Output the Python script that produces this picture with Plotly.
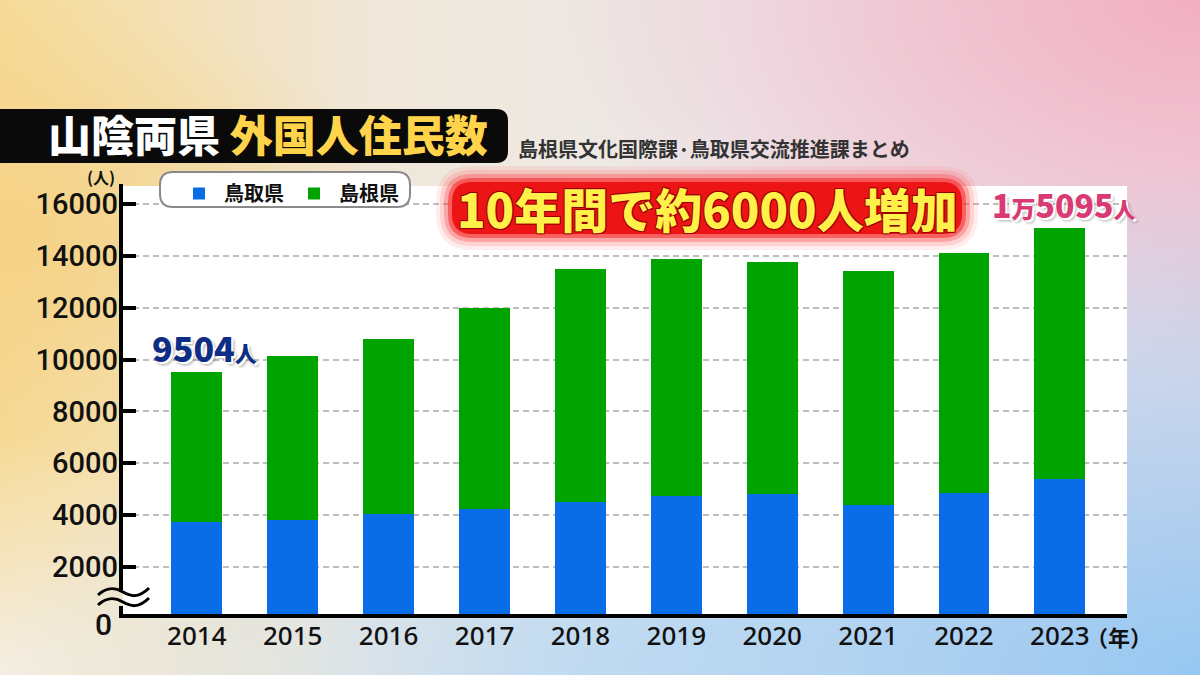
import base64
import plotly.graph_objects as go

# ---------------- data ----------------
years = ["2014", "2015", "2016", "2017", "2018", "2019", "2020", "2021", "2022", "2023"]
tottori = [3718, 3807, 4027, 4220, 4514, 4745, 4811, 4386, 4861, 5402]
shimane = [5786, 6344, 6757, 7784, 8984, 9128, 8969, 9046, 9243, 9693]
y_ticks = [2000, 4000, 6000, 8000, 10000, 12000, 14000, 16000]
series_names = ["鳥取県", "島根県"]
title_a = "山陰両県"
title_b = "外国人住民数"
source_text = "島根県文化国際課·鳥取県交流推進課まとめ"
banner_text = "10年間で約6000人増加"

# ---------------- geometry helpers ----------------
W, H = 1200, 675
L, R, T, B = 123, 1127, 186, 614
PW, PH = R - L, B - T


def px(x):
    return (x - L) / PW


def py(y):
    return (B - y) / PH


def rrect(x0, y0, x1, y1, r):
    pts = [
        f"M{px(x0 + r)},{py(y0)}",
        f"L{px(x1 - r)},{py(y0)}",
        f"Q{px(x1)},{py(y0)} {px(x1)},{py(y0 + r)}",
        f"L{px(x1)},{py(y1 - r)}",
        f"Q{px(x1)},{py(y1)} {px(x1 - r)},{py(y1)}",
        f"L{px(x0 + r)},{py(y1)}",
        f"Q{px(x0)},{py(y1)} {px(x0)},{py(y1 - r)}",
        f"L{px(x0)},{py(y0 + r)}",
        f"Q{px(x0)},{py(y0)} {px(x0 + r)},{py(y0)}",
        "Z",
    ]
    return " ".join(pts)


def path_px(cmds):
    out = []
    for c in cmds:
        if isinstance(c, str):
            out.append(c)
        else:
            out.append(f"{px(c[0])},{py(c[1])}")
    return " ".join(out)


# ---------------- background gradient (SVG) ----------------
svg = f"""<svg xmlns='http://www.w3.org/2000/svg' width='{W}' height='{H}' viewBox='0 0 {W} {H}' preserveAspectRatio='none'>
<defs>
<linearGradient id='base' x1='0' y1='0' x2='1' y2='0'>
<stop offset='0' stop-color='#F6DA96'/>
<stop offset='0.3' stop-color='#F0E7D8'/>
<stop offset='0.6' stop-color='#ECEAEA'/>
<stop offset='1' stop-color='#EEDDE6'/>
</linearGradient>
<radialGradient id='pink' cx='1' cy='0' r='0.55'>
<stop offset='0' stop-color='#F2AFC2' stop-opacity='1'/>
<stop offset='1' stop-color='#F2AFC2' stop-opacity='0'/>
</radialGradient>
<radialGradient id='blue' cx='1' cy='1' r='0.75'>
<stop offset='0' stop-color='#96C8F2' stop-opacity='1'/>
<stop offset='1' stop-color='#96C8F2' stop-opacity='0'/>
</radialGradient>
<radialGradient id='blue2' cx='0.5' cy='1' r='0.5'>
<stop offset='0' stop-color='#CFE2F3' stop-opacity='0.9'/>
<stop offset='1' stop-color='#CFE2F3' stop-opacity='0'/>
</radialGradient>
<radialGradient id='yel' cx='0' cy='0.35' r='0.35'>
<stop offset='0' stop-color='#F5D080' stop-opacity='0.8'/>
<stop offset='1' stop-color='#F5D080' stop-opacity='0'/>
</radialGradient>
<radialGradient id='bl' cx='0' cy='1' r='0.35'>
<stop offset='0' stop-color='#F4EEE4' stop-opacity='1'/>
<stop offset='1' stop-color='#F4EEE4' stop-opacity='0'/>
</radialGradient>
</defs>
<rect width='{W}' height='{H}' fill='url(#base)'/>
<rect width='{W}' height='{H}' fill='url(#yel)'/>
<rect width='{W}' height='{H}' fill='url(#bl)'/>
<rect width='{W}' height='{H}' fill='url(#blue2)'/>
<rect width='{W}' height='{H}' fill='url(#pink)'/>
<rect width='{W}' height='{H}' fill='url(#blue)'/>
</svg>"""
bg_uri = "data:image/svg+xml;base64," + base64.b64encode(svg.encode("utf-8")).decode("ascii")

JP = "Noto Sans CJK JP"
NARROW = "Liberation Sans Narrow, Arial Narrow, Roboto, sans-serif"

# ---------------- figure ----------------
fig = go.Figure()
fig.add_bar(x=years, y=tottori, name=series_names[0], marker=dict(color="#0A6DE8", line=dict(width=0)))
fig.add_bar(x=years, y=shimane, name=series_names[1], marker=dict(color="#00A300", line=dict(width=0)))

shapes = []
shapes.append(dict(type="rect", xref="paper", yref="paper", x0=0, x1=1, y0=0, y1=1,
                   fillcolor="white", line=dict(width=0), layer="below"))
shapes.append(dict(type="line", xref="paper", yref="paper", x0=px(121), x1=px(121),
                   y0=py(T - 2), y1=py(590), line=dict(color="black", width=4), layer="above"))
shapes.append(dict(type="line", xref="paper", yref="paper", x0=px(121), x1=px(121),
                   y0=py(606), y1=py(618), line=dict(color="black", width=4), layer="above"))
for dy in (0, 10):
    shapes.append(dict(type="path", xref="paper", yref="paper",
                       path=path_px(["M", (98, 595 + dy), "C", (108, 586 + dy), (116, 588 + dy), (123, 592 + dy),
                                     "S", (138, 599 + dy), (149, 588 + dy)]),
                       line=dict(color="black", width=3), layer="above"))
shapes.append(dict(type="path", xref="paper", yref="paper", path=rrect(-20, 109, 508, 163, 12),
                   fillcolor="#0A0A0A", line=dict(width=0), layer="above"))
shapes.append(dict(type="path", xref="paper", yref="paper", path=rrect(160, 172, 410, 207, 13),
                   fillcolor="white", line=dict(color="#8A8A8A", width=2), layer="above"))
for (pad, col) in [(16, "rgba(255,110,110,0.12)"), (12, "rgba(255,90,90,0.18)"), (8, "rgba(250,60,60,0.3)"),
                   (4, "rgba(245,40,40,0.55)"), (0, "#EC1414")]:
    shapes.append(dict(type="path", xref="paper", yref="paper",
                       path=rrect(452 - pad, 182 - pad, 962 + pad, 234 + pad, 20 + pad),
                       fillcolor=col, line=dict(width=0), layer="above"))

annotations = []
annotations.append(dict(xref="paper", yref="paper", x=px(46), y=py(133), xanchor="left", yanchor="middle",
                        text=f"{title_a} <span style='color:#FFD34A'>{title_b}</span>", showarrow=False,
                        font=dict(family=JP, size=43, color="white", weight=900)))
annotations.append(dict(xref="paper", yref="paper", x=px(516), y=py(148), xanchor="left", yanchor="middle",
                        text=source_text, showarrow=False,
                        font=dict(family=JP, size=20, color="#333333", weight=700)))
annotations.append(dict(xref="paper", yref="paper", x=px(707), y=py(208), xanchor="center", yanchor="middle",
                        text=banner_text, showarrow=False,
                        font=dict(family=JP, size=47, color="#FFF04A", weight=900,
                                  shadow="1px 1px 0 #9A0000, -1px -1px 0 #9A0000, 1px -1px 0 #9A0000, -1px 1px 0 #9A0000")))
annotations.append(dict(xref="paper", yref="paper", x=px(204), y=py(347), xanchor="center", yanchor="middle",
                        text=f"{tottori[0] + shimane[0]}<span style='font-size:22px'>人</span>", showarrow=False,
                        font=dict(family=JP, size=34, color="#0E2D84", weight=900,
                                  shadow="2px 2px 0 #ffffff, -1px -1px 0 #ffffff, 3px 3px 3px rgba(0,0,0,0.35)")))
tot23 = tottori[-1] + shimane[-1]
annotations.append(dict(xref="paper", yref="paper", x=px(1063), y=py(204), xanchor="center", yanchor="middle",
                        text=f"{tot23 // 10000}<span style='font-size:24px'>万</span>{tot23 % 10000}<span style='font-size:22px'>人</span>",
                        showarrow=False,
                        font=dict(family=JP, size=32, color="#D93A73", weight=900,
                                  shadow="2px 2px 0 #ffffff, -1px -1px 0 #ffffff, 3px 3px 3px rgba(0,0,0,0.3)")))
annotations.append(dict(xref="paper", yref="paper", x=px(101), y=py(177), xanchor="center", yanchor="middle",
                        text="(人)", showarrow=False, font=dict(family=JP, size=16, color="#111111", weight=700)))
annotations.append(dict(xref="paper", yref="paper", x=px(1119), y=py(636), xanchor="center", yanchor="middle",
                        text="（年）", showarrow=False, font=dict(family=JP, size=22, color="#111111", weight=700)))
annotations.append(dict(xref="paper", yref="paper", x=px(103), y=py(624), xanchor="center", yanchor="middle",
                        text="0", showarrow=False, font=dict(family=NARROW, size=30, color="#111111", weight=500)))

fig.update_layout(
    width=W, height=H,
    margin=dict(l=L, r=W - R, t=T, b=H - B, pad=0),
    barmode="stack", bargap=0.47,
    paper_bgcolor="#EEEEEE", plot_bgcolor="white",
    showlegend=True,
    legend=dict(orientation="h", x=px(174), y=py(174), xanchor="left", yanchor="top",
                bgcolor="rgba(0,0,0,0)", borderwidth=0, traceorder="normal",
                font=dict(family=JP, size=20, color="#111111", weight=700), itemwidth=40),
    xaxis=dict(type="category", range=[-0.77, 9.70], showline=True, linecolor="black", linewidth=4,
               ticks="", showgrid=False, zeroline=False, ticklabelstandoff=-4,
               tickfont=dict(family="Noto Sans", size=26, color="#111111", weight=500)),
    yaxis=dict(range=[178, 16703], tickvals=y_ticks, ticktext=[str(v) for v in y_ticks],
               ticks="inside", ticklen=13, tickwidth=4, tickcolor="black",
               showline=False, zeroline=False, showgrid=True, gridcolor="#BEBEBE", gridwidth=2,
               griddash="6px,4px", ticklabelstandoff=4,
               tickfont=dict(family=NARROW, size=29, color="#111111", weight=500)),
    shapes=shapes,
    annotations=annotations,
    images=[dict(source=bg_uri, xref="paper", yref="paper", x=-L / PW, y=1 + T / PH,
                 sizex=W / PW, sizey=H / PH, xanchor="left", yanchor="top",
                 sizing="stretch", layer="below")],
)

fig.write_html("out.html")
